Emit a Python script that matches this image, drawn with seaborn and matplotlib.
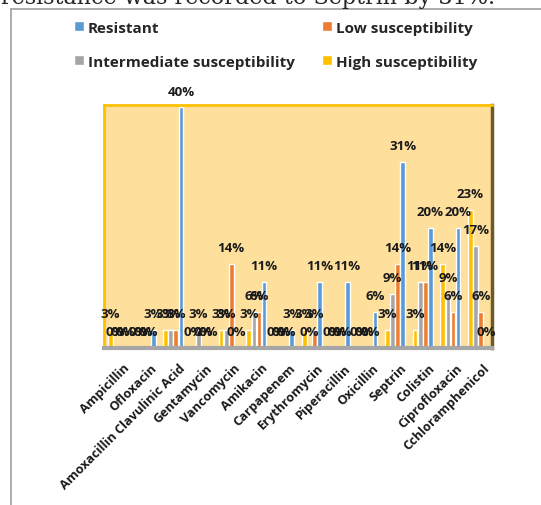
#!/usr/bin/env python3

import matplotlib

matplotlib.use("Agg")
import matplotlib.pylab as plt
import matplotlib.transforms as mtransforms
import pandas as pd
import seaborn as sns

# Antibiotic susceptibility (%)
antibiotics = [
    "Ampicillin",
    "Ofloxacin",
    "Amoxacillin Clavulinic Acid",
    "Gentamycin",
    "Vancomycin",
    "Amikacin",
    "Carpapenem",
    "Erythromycin",
    "Piperacillin",
    "Oxicillin",
    "Septrin",
    "Colistin",
    "Ciprofloxacin",
    "Cchloramphenicol",
]
resistant = [0, 3, 40, 0, 0, 11, 3, 11, 11, 6, 31, 20, 20, 0]
low_susceptibility = [0, 0, 3, 0, 14, 6, 0, 3, 0, 0, 14, 11, 6, 6]
intermediate_susceptibility = [0, 0, 3, 3, 3, 6, 0, 0, 0, 0, 9, 11, 9, 17]
high_susceptibility = [3, 0, 3, 0, 3, 3, 0, 3, 0, 0, 3, 3, 14, 23]

series = {
    "Resistant": resistant,
    "Low susceptibility": low_susceptibility,
    "Intermediate susceptibility": intermediate_susceptibility,
    "High susceptibility": high_susceptibility,
}
colors = {
    "Resistant": "#5B9BD5",
    "Low susceptibility": "#ED7D31",
    "Intermediate susceptibility": "#A5A5A5",
    "High susceptibility": "#FFC000",
}
# bars are drawn back-to-front in the original 3D chart
bar_order = [
    "High susceptibility",
    "Intermediate susceptibility",
    "Low susceptibility",
    "Resistant",
]
legend_order = [
    "Resistant",
    "Intermediate susceptibility",
    "Low susceptibility",
    "High susceptibility",
]

rows = []
for name, values in series.items():
    for drug, v in zip(antibiotics, values):
        rows.append({"antibiotic": drug, "category": name, "value": v})
df = pd.DataFrame(rows)

sns.set_style("white")
plt.rcParams["font.family"] = ["Open Sans", "DejaVu Sans"]

W, H = 541, 506
fig = plt.figure(figsize=(W / 100, H / 100), dpi=100)
ax = fig.add_axes([104 / W, 1 - 349 / H, 388 / W, 243 / H])

sns.barplot(
    df,
    ax=ax,
    x="antibiotic",
    y="value",
    hue="category",
    hue_order=bar_order,
    order=antibiotics,
    palette=colors,
    width=0.74,
    gap=0.08,
    saturation=1,
    legend=True,
)

ax.set_facecolor("#FEDF9C")
ax.set_ylim(0, 40.4)
ax.set_xlim(-0.5, len(antibiotics) - 0.5)
ax.set_yticks([])
ax.set_xlabel("")
ax.set_ylabel("")
ax.tick_params(axis="x", length=0, pad=8)
shift = mtransforms.ScaledTranslation(5 / 100, -2 / 100, fig.dpi_scale_trans)
for lbl in ax.get_xticklabels():
    lbl.set_rotation(45)
    lbl.set_ha("right")
    lbl.set_rotation_mode("anchor")
    lbl.set_fontsize(9.2)
    lbl.set_fontweight("bold")
    lbl.set_color("#1a1a1a")
    lbl.set_transform(lbl.get_transform() + shift)

ax.spines["top"].set_color("#FFC000")
ax.spines["left"].set_color("#FFC000")
ax.spines["top"].set_linewidth(2)
ax.spines["left"].set_linewidth(2)
ax.spines["right"].set_color("#6B5A2A")
ax.spines["right"].set_linewidth(2.5)
ax.spines["bottom"].set_color("#A6A6A6")
ax.spines["bottom"].set_linewidth(3)

# data labels on every bar, zeros included
for container in ax.containers:
    ax.bar_label(
        container,
        labels=[f"{int(v)}%" for v in container.datavalues],
        padding=7,
        fontsize=9.5,
        fontweight="bold",
        color="#1a1a1a",
    )

# Legend above the plot, two columns
handles, labels = ax.get_legend_handles_labels()
lookup = dict(zip(labels, handles))
ax.get_legend().remove()
fig.legend(
    [lookup[k] for k in legend_order],
    legend_order,
    ncol=2,
    loc="upper left",
    bbox_to_anchor=(60 / W, 1 - 8 / H),
    frameon=False,
    prop={"weight": "bold", "size": 11},
    handlelength=0.65,
    handleheight=0.65,
    handletextpad=0.26,
    labelspacing=1.3,
    columnspacing=1.8,
)

# Page remnants around the figure
fig.text(
    495 / W,
    1 - 4 / H,
    "resistance was recorded to Septrin by 31%.",
    ha="right",
    va="baseline",
    fontsize=16,
    family="DejaVu Serif",
)
fig.add_artist(
    plt.Line2D([11 / W, 1], [1 - 10 / H, 1 - 10 / H], color="#A0A0A0", lw=1.2)
)
fig.add_artist(plt.Line2D([11 / W, 11 / W], [0, 1 - 10 / H], color="#A0A0A0", lw=1.2))

plt.savefig("out.png", dpi=100)
